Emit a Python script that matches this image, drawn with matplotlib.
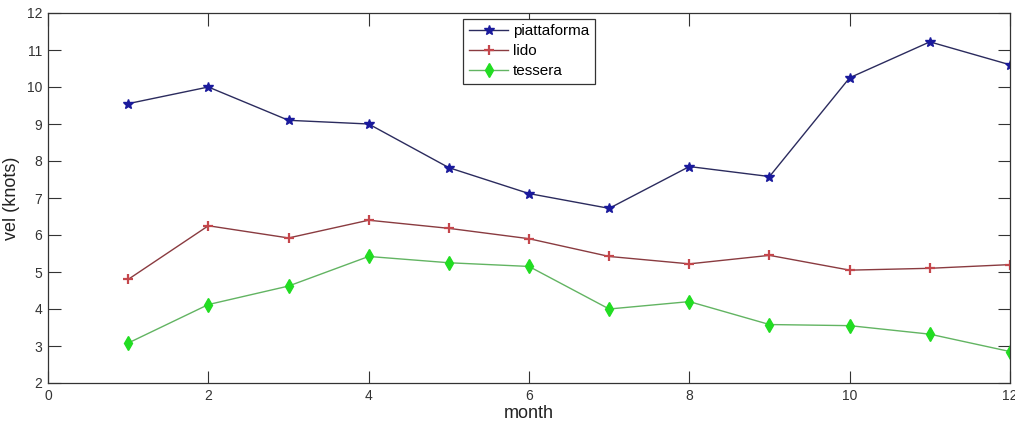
import matplotlib
matplotlib.use("Agg")
import matplotlib.pyplot as plt
from matplotlib import font_manager

months = [1, 2, 3, 4, 5, 6, 7, 8, 9, 10, 11, 12]
piattaforma = [9.55, 10.0, 9.1, 9.0, 7.82, 7.12, 6.72, 7.85, 7.58, 10.25, 11.22, 10.6]
lido = [4.8, 6.25, 5.92, 6.4, 6.18, 5.9, 5.42, 5.22, 5.45, 5.05, 5.1, 5.2]
tessera = [3.08, 4.12, 4.62, 5.42, 5.25, 5.15, 4.0, 4.2, 3.58, 3.55, 3.32, 2.85]
xticks = [0, 2, 4, 6, 8, 10, 12]
yticks = [2, 3, 4, 5, 6, 7, 8, 9, 10, 11, 12]

plt.rcParams['font.family'] = ['Liberation Sans', 'DejaVu Sans']
names = {f.name for f in font_manager.fontManager.ttflist}
narrow = 'Liberation Sans Narrow' if 'Liberation Sans Narrow' in names else 'Liberation Sans'

fig = plt.figure(figsize=(10.15, 4.24), dpi=100)
ax = fig.add_axes([48/1015, 41/424, 962/1015, 370/424])

ax.plot(months, piattaforma, '-', color='#2b2b5e', lw=1.0, marker='*',
        markersize=7, markerfacecolor='#1a1a9c', markeredgecolor='#1a1a9c', label='piattaforma')
ax.plot(months, lido, '-', color='#8a3b40', lw=1.0, marker='+',
        markersize=7, markeredgewidth=1.6, markerfacecolor='#c4474c', markeredgecolor='#c4474c', label='lido')
ax.plot(months, tessera, '-', color='#62b462', lw=1.0, marker='d',
        markersize=7, markerfacecolor='#22dd22', markeredgecolor='#22dd22', label='tessera')

ax.set_xlim(0, 12)
ax.set_ylim(2, 12)
ax.set_xticks(xticks)
ax.set_yticks(yticks)
ax.tick_params(direction='in', top=True, right=True, length=9, width=0.8,
               labelsize=10, colors='#333333', pad=4)
for lab in ax.get_xticklabels() + ax.get_yticklabels():
    lab.set_family([narrow, 'DejaVu Sans'])
for s in ax.spines.values():
    s.set_color('#333333')
    s.set_linewidth(0.9)

ax.set_xlabel('month', fontsize=13, labelpad=2, color='#222222')
ax.set_ylabel('vel (knots)', fontsize=13, color='#222222')
ax.yaxis.set_label_coords(-0.029, 0.5)

leg = ax.legend(loc='upper center', bbox_to_anchor=(0.5, 1.005), fontsize=11,
                fancybox=False, framealpha=1, edgecolor='#333333',
                handlelength=2.6, borderpad=0.35, labelspacing=0.4, handletextpad=0.3)
leg.get_frame().set_linewidth(0.9)

fig.savefig('out.png', dpi=100)
